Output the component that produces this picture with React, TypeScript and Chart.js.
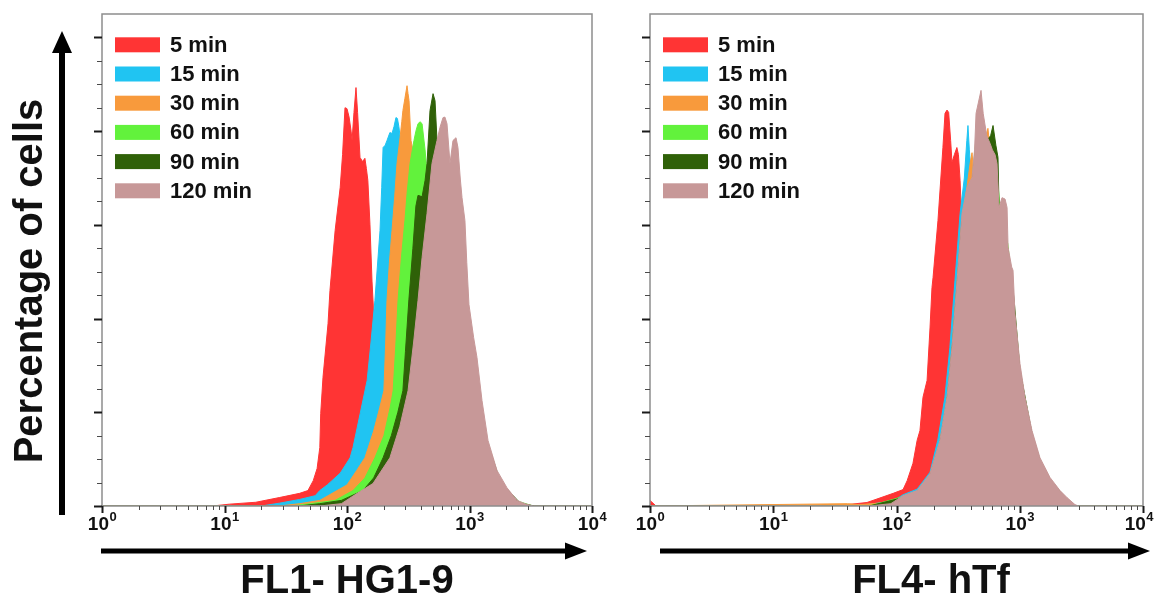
import { useEffect, useRef } from 'react';
import { Chart, registerables } from 'chart.js';

Chart.register(...registerables);

const FONT = '"Liberation Sans", Arial, Helvetica, sans-serif';

const SERIES_LABELS = ['5 min', '15 min', '30 min', '60 min', '90 min', '120 min'];
const SERIES_COLORS = ['#FF3434', '#20C4F2', '#F89A3C', '#62F23C', '#2F6108', '#C79898'];
const X_DECADES = [0, 1, 2, 3, 4];
const Y_MAX = 105;
const Y_MINOR_STEP = 5;
const Y_MAJOR_STEP = 20;
const Y_TICK_TOP = 100;

// ---------- Left panel: FL1- HG1-9 ----------
const L5_X = [1, 8, 11, 18, 28, 41, 48, 53, 57, 60, 61, 63.7, 70, 72.6, 80, 88, 92, 96.3, 100, 104, 108, 110, 114, 118.4, 122, 127.7, 134, 140, 144, 148, 154, 160, 166, 180, 210, 260, 330, 450, 700, 1000, 10000];
const L5_Y = [0, 0, 0.4, 0.8, 1.8, 2.7, 3.3, 5.4, 8, 12.5, 19.7, 27.5, 38.9, 46, 58.8, 68, 75, 85, 84.8, 83, 80, 78, 84, 89.3, 84, 74.4, 73.5, 74.2, 72, 69.5, 60, 48, 40, 32, 20, 12, 6, 2, 0.5, 0, 0];

const L15_X = [1, 20, 28, 41, 55, 60, 69, 88, 106, 112, 128, 146, 157, 169, 186, 192, 197, 205, 212, 224, 233, 242, 251, 258, 265, 271, 285, 320, 380, 480, 650, 900, 1300, 2000, 3000, 10000];
const L15_Y = [0, 0, 0.6, 1.4, 2.2, 3.3, 4.5, 7, 10.3, 12.5, 19.7, 26.8, 35, 43.9, 58.8, 68, 76.5, 77, 78, 79.7, 79.5, 81, 82.9, 82.7, 81, 79, 75, 68, 58, 45, 28, 14, 5, 1.5, 0, 0];

const L30_X = [1, 28, 41, 60, 83, 100, 120, 140, 165, 185, 200, 207, 212, 222, 233, 245, 256, 271, 280, 286, 297, 309, 315, 321, 333, 345, 380, 450, 550, 700, 900, 1200, 1700, 2500, 3200, 10000];
const L30_Y = [0, 0, 0.5, 1.2, 3.3, 4.5, 7.6, 10.3, 16, 21, 24.6, 35, 43.9, 52, 58.8, 66, 73.1, 78.6, 82, 84.4, 87, 89.7, 88, 86.5, 78, 76, 72, 64, 52, 36, 22, 10, 3, 0.5, 0, 0];

const L60_X = [1, 35, 50, 80, 112, 140, 169, 200, 225, 238, 250, 261, 278, 297, 310, 327, 352, 365, 380, 395, 410, 434, 460, 520, 600, 700, 900, 1200, 1700, 2500, 3300, 10000];
const L60_Y = [0, 0, 0.5, 1.2, 3.3, 6, 10.3, 15, 21, 24.6, 34, 43.9, 53, 60.9, 67, 73.1, 78, 80, 81.6, 82, 81.6, 76, 68, 64, 57, 45, 28, 13, 4, 1, 0, 0];

const L90_X = [1, 40, 60, 90, 135, 165, 197, 230, 260, 286, 300, 320, 345, 365, 380, 410, 434, 450, 476, 504, 523, 543, 570, 650, 800, 1000, 1300, 1800, 2600, 3400, 10000];
const L90_Y = [0, 0, 0.5, 1.2, 3.3, 6, 10.3, 15, 20, 24.6, 33, 44, 55, 64, 66.3, 66, 69.5, 73.1, 84.4, 88, 86.5, 78, 72, 64, 48, 32, 16, 5, 0.6, 0, 0];

const L120_X = [1, 60, 90, 121, 163, 224, 270, 315, 350, 380, 410, 450, 494, 543, 574, 608, 630, 655, 693, 733, 776, 805, 840, 869, 918, 950, 990, 1080, 1151, 1265, 1416, 1676, 2022, 2443, 2838, 3300, 10000];
const L120_Y = [0, 0, 0.5, 2.7, 4.8, 10.3, 17, 24.6, 35, 43.9, 53, 62.4, 73.1, 78, 80.8, 82.9, 83, 81.6, 73.1, 78, 78.6, 76.5, 70, 65.8, 60.9, 52, 43, 36, 31.7, 22.5, 14, 7.6, 3.9, 1.2, 0.5, 0, 0];

// ---------- Right panel: FL4- hTf ----------
const R5_X = [1, 1.12, 25, 40, 57.6, 94, 113, 122, 136, 147, 155, 164, 177, 187, 194, 198, 217, 238, 247.5, 257, 265, 275, 282, 295, 309, 318, 328, 345, 365, 420, 520, 700, 1000, 1300, 1600, 2000, 2500, 10000];
const R5_Y = [1.2, 0, 0, 0.3, 0.75, 2.7, 3.5, 5.4, 9.1, 14, 16.1, 23.2, 26.8, 38, 46.6, 48.8, 60.9, 76.5, 83.8, 84.5, 84, 78, 73.3, 75, 76.5, 75, 69.5, 55, 45, 38, 32, 22, 11, 5, 2, 0.5, 0, 0];

const R15_X = [1, 40, 57, 80, 100, 113, 147, 187, 216, 247, 271, 298, 328, 355, 372, 380, 390, 400, 430, 480, 560, 650, 800, 1000, 1250, 1450, 1750, 2100, 2800, 10000];
const R15_Y = [0, 0, 0.3, 0.8, 1.5, 2.4, 3.6, 7.2, 14, 23.2, 33.8, 48.1, 62.4, 70, 78, 81.2, 76, 72, 70, 74, 72, 64, 50, 28, 14, 9, 4, 1.5, 0, 0];

const R30_X = [1, 40, 50, 80, 113, 147, 187, 225, 257, 282, 310, 340, 373, 395, 410, 420, 440, 480, 520, 552, 570, 620, 700, 850, 1000, 1250, 1450, 1750, 2100, 2800, 10000];
const R30_Y = [0, 0.5, 0.3, 0.7, 1.8, 3, 6.6, 13.5, 22.8, 33.5, 47.5, 61, 68, 73, 75.4, 72, 70, 76, 78, 80.6, 77, 72, 60, 48, 29, 15, 9, 4, 1.5, 0, 0];

const R60_X = [1, 60, 113, 147, 187, 225, 257, 282, 310, 340, 373, 410, 440, 485, 520, 560, 607, 650, 700, 800, 900, 1004, 1257, 1459, 1759, 2122, 2418, 2800, 10000];
const R60_Y = [0, 0, 2, 3, 6.5, 13.5, 22.5, 33, 47, 61, 67, 69, 78, 82, 80, 77, 74, 72, 62, 56, 43, 29, 15, 9.5, 5.5, 3, 1.2, 0, 0];

const R90_X = [1, 60, 113, 147, 187, 225, 257, 282, 310, 340, 373, 410, 440, 485, 540, 580, 607, 640, 666, 679, 700, 800, 900, 1004, 1257, 1459, 1759, 2122, 2418, 2800, 10000];
const R90_Y = [0, 0, 1.8, 3, 6.4, 13.4, 22.4, 33, 47, 61, 67, 69, 76, 80, 78, 79, 81.2, 77, 74.4, 64, 60, 55, 44, 29, 15.5, 9.8, 5.7, 3.1, 1.4, 0, 0];

const R120_X = [1, 60, 90, 113, 147, 187, 225, 257, 282, 310, 340, 373, 410, 430, 442, 485, 505, 540, 574, 600, 630, 654, 679, 718, 760, 789, 804, 860, 882, 915, 1004, 1104, 1257, 1459, 1759, 2122, 2418, 2806, 3000, 10000];
const R120_Y = [0, 0, 0.5, 2.2, 3.3, 6.9, 14, 23.2, 33.8, 48.1, 62.4, 68, 70.1, 76, 83.8, 88.7, 83.8, 79, 77.4, 76, 75, 73.1, 63.7, 65.8, 65.5, 63.7, 55.2, 51, 50.3, 41, 30.4, 23.2, 16.1, 10.3, 6.1, 3.3, 1.8, 0.3, 0, 0];

const LEFT_XS = [L5_X, L15_X, L30_X, L60_X, L90_X, L120_X];
const LEFT_YS = [L5_Y, L15_Y, L30_Y, L60_Y, L90_Y, L120_Y];
const RIGHT_XS = [R5_X, R15_X, R30_X, R60_X, R90_X, R120_X];
const RIGHT_YS = [R5_Y, R15_Y, R30_Y, R60_Y, R90_Y, R120_Y];

const X_TITLE_LEFT = 'FL1- HG1-9';
const X_TITLE_RIGHT = 'FL4- hTf';
const Y_TITLE = 'Percentage of cells';

const SUPS: Record<number, string> = { 0: '0', 1: '1', 2: '2', 3: '3', 4: '4' };

function buildDatasets(xs: number[][], ys: number[][]) {
  return xs.map((xArr, i) => ({
    label: SERIES_LABELS[i],
    data: xArr.map((x, j) => ({ x, y: ys[i][j] })),
    showLine: true,
    fill: 'origin',
    backgroundColor: SERIES_COLORS[i],
    borderColor: SERIES_COLORS[i],
    borderWidth: 1,
    pointRadius: 0,
    pointHoverRadius: 0,
    tension: 0,
    order: SERIES_LABELS.length - 1 - i,
  }));
}

type Decor = {
  xTitle: string;
  xTitleX: number;
  arrowStart: number;
  arrowEnd: number;
  yTitle: boolean;
  labelMaxRight: number;
};

function makeDecor(d: Decor) {
  return {
    id: 'decor',
    afterDraw(chart: any) {
      const ctx: CanvasRenderingContext2D = chart.ctx;
      const a = chart.chartArea;
      const xs = chart.scales.x;
      const ys = chart.scales.y;
      ctx.save();

      // frame
      ctx.strokeStyle = '#8d8d8d';
      ctx.lineWidth = 1.5;
      ctx.strokeRect(a.left, a.top, a.right - a.left, a.bottom - a.top);

      // y ticks
      for (let v = 0; v <= Y_TICK_TOP; v += Y_MINOR_STEP) {
        const y = Math.round(ys.getPixelForValue(v)) + 0.5;
        const major = v % Y_MAJOR_STEP === 0;
        ctx.strokeStyle = major ? '#1a1a1a' : '#4a4a4a';
        ctx.lineWidth = major ? 2 : 1;
        ctx.beginPath();
        ctx.moveTo(a.left - (major ? 8 : 5), y);
        ctx.lineTo(a.left, y);
        ctx.stroke();
      }

      // x ticks
      for (let di = 0; di < X_DECADES.length; di++) {
        const dec = X_DECADES[di];
        const maxM = di === X_DECADES.length - 1 ? 1 : 9;
        for (let m = 1; m <= maxM; m++) {
          const val = m * Math.pow(10, dec);
          const x = Math.round(xs.getPixelForValue(val)) + 0.5;
          const major = m === 1;
          ctx.strokeStyle = major ? '#1a1a1a' : '#4a4a4a';
          ctx.lineWidth = major ? 2 : 1;
          ctx.beginPath();
          ctx.moveTo(x, a.bottom);
          ctx.lineTo(x, a.bottom + (major ? 7 : 4));
          ctx.stroke();
        }
      }

      // x tick labels 10^n
      ctx.fillStyle = '#111';
      ctx.textBaseline = 'alphabetic';
      ctx.textAlign = 'left';
      for (const dec of X_DECADES) {
        const x = xs.getPixelForValue(Math.pow(10, dec));
        ctx.font = `bold 19px ${FONT}`;
        const w1 = ctx.measureText('10').width;
        ctx.font = `bold 13px ${FONT}`;
        const w2 = ctx.measureText(SUPS[dec]).width;
        let sx = x - (w1 + w2) / 2;
        if (sx + w1 + w2 > d.labelMaxRight) sx = d.labelMaxRight - w1 - w2;
        ctx.font = `bold 19px ${FONT}`;
        ctx.fillText('10', sx, 530);
        ctx.font = `bold 13px ${FONT}`;
        ctx.fillText(SUPS[dec], sx + w1 + 0.5, 521);
      }

      // x arrow
      const ay = 551;
      ctx.fillStyle = '#000';
      ctx.fillRect(d.arrowStart, ay - 2.5, d.arrowEnd - 18 - d.arrowStart, 5);
      ctx.beginPath();
      ctx.moveTo(d.arrowEnd, ay);
      ctx.lineTo(d.arrowEnd - 22, ay - 8.5);
      ctx.lineTo(d.arrowEnd - 22, ay + 8.5);
      ctx.closePath();
      ctx.fill();

      // x title
      ctx.font = `bold 40px ${FONT}`;
      ctx.textAlign = 'center';
      ctx.fillStyle = '#111';
      ctx.fillText(d.xTitle, d.xTitleX, 593);

      if (d.yTitle) {
        // vertical arrow
        const vx = 62;
        ctx.fillStyle = '#000';
        ctx.fillRect(vx - 3, 50, 6, 515 - 50);
        ctx.beginPath();
        ctx.moveTo(vx, 31);
        ctx.lineTo(vx - 10, 53);
        ctx.lineTo(vx + 10, 53);
        ctx.closePath();
        ctx.fill();

        ctx.save();
        ctx.translate(30, 281);
        ctx.rotate(-Math.PI / 2);
        ctx.font = `bold 40px ${FONT}`;
        ctx.textAlign = 'center';
        ctx.textBaseline = 'middle';
        ctx.fillStyle = '#111';
        ctx.fillText(Y_TITLE, 0, 1);
        ctx.restore();
      }

      // legend
      for (let i = 0; i < SERIES_LABELS.length; i++) {
        const yc = a.top + 30.8 + i * 29.2;
        ctx.fillStyle = SERIES_COLORS[i];
        ctx.fillRect(a.left + 13, yc - 7.5, 45, 15);
        ctx.fillStyle = '#111';
        ctx.font = `bold 22px ${FONT}`;
        ctx.textAlign = 'left';
        ctx.textBaseline = 'middle';
        ctx.fillText(SERIES_LABELS[i], a.left + 68, yc + 1);
      }

      ctx.restore();
    },
  };
}

function makeConfig(xsArr: number[][], ysArr: number[][], yWidth: number, rightPad: number, decor: Decor): any {
  return {
    type: 'scatter',
    data: { datasets: buildDatasets(xsArr, ysArr) },
    options: {
      responsive: false,
      animation: false,
      devicePixelRatio: 1,
      layout: { padding: { top: 14, right: rightPad, left: 0, bottom: 0 } },
      plugins: { legend: { display: false }, tooltip: { enabled: false } },
      scales: {
        x: {
          type: 'logarithmic',
          min: 1,
          max: 10000,
          ticks: { display: false },
          grid: { display: false },
          border: { display: false },
          afterFit: (s: any) => {
            s.height = 90;
          },
        },
        y: {
          type: 'linear',
          min: 0,
          max: Y_MAX,
          ticks: { display: false },
          grid: { display: false },
          border: { display: false },
          afterFit: (s: any) => {
            s.width = yWidth;
          },
        },
      },
    },
    plugins: [makeDecor(decor)],
  };
}

export default function App() {
  const leftRef = useRef<HTMLCanvasElement | null>(null);
  const rightRef = useRef<HTMLCanvasElement | null>(null);

  useEffect(() => {
    const charts: Chart[] = [];
    if (leftRef.current) {
      charts.push(
        new Chart(
          leftRef.current,
          makeConfig(LEFT_XS, LEFT_YS, 102, 628 - 592, {
            xTitle: X_TITLE_LEFT,
            xTitleX: 347,
            arrowStart: 101,
            arrowEnd: 587,
            yTitle: true,
            labelMaxRight: 620,
          })
        )
      );
    }
    if (rightRef.current) {
      charts.push(
        new Chart(
          rightRef.current,
          makeConfig(RIGHT_XS, RIGHT_YS, 50, 11, {
            xTitle: X_TITLE_RIGHT,
            xTitleX: 331,
            arrowStart: 60,
            arrowEnd: 550,
            yTitle: false,
            labelMaxRight: 553,
          })
        )
      );
    }
    return () => charts.forEach((c) => c.destroy());
  }, []);

  return (
    <div style={{ position: 'absolute', left: 0, top: 0, width: 1154, height: 596, background: '#fff', overflow: 'hidden' }}>
      <canvas ref={leftRef} width={628} height={596} style={{ position: 'absolute', left: 0, top: 0, width: 628, height: 596 }} />
      <canvas ref={rightRef} width={554} height={596} style={{ position: 'absolute', left: 600, top: 0, width: 554, height: 596 }} />
    </div>
  );
}
